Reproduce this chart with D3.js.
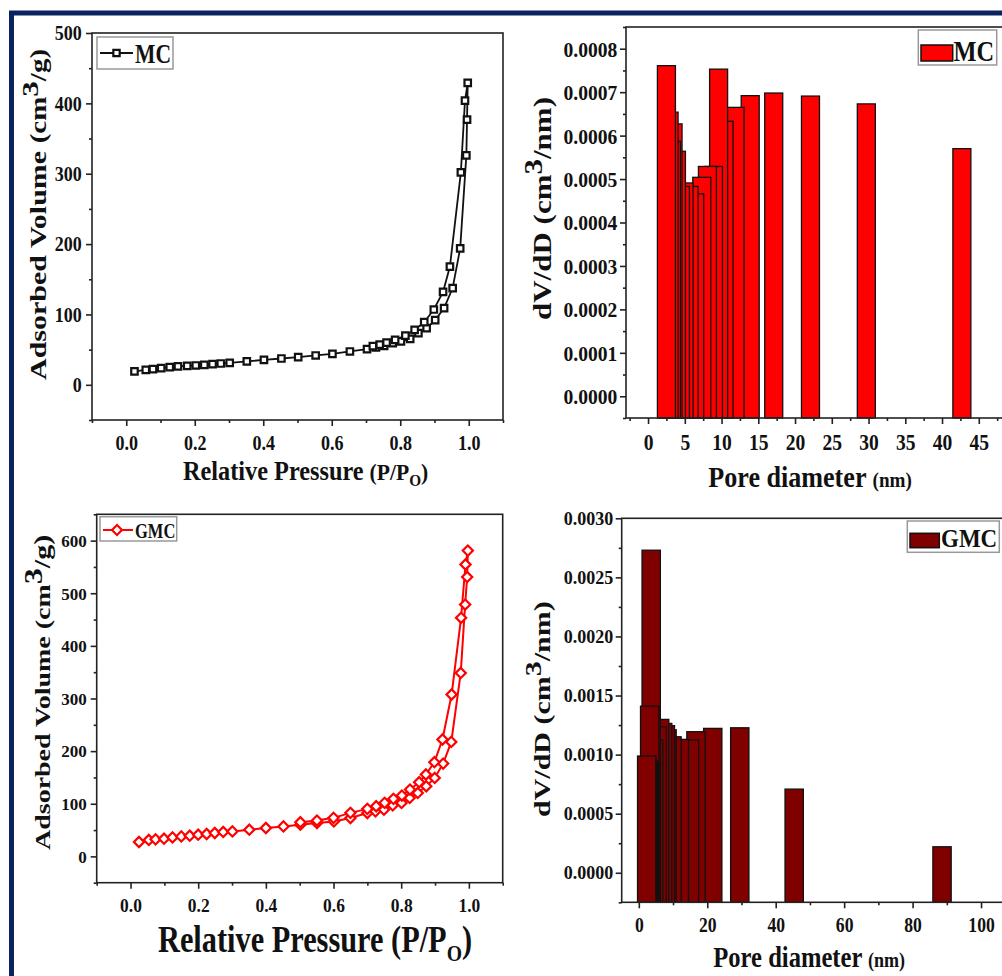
<!DOCTYPE html>
<html><head><meta charset="utf-8">
<script src="https://cdn.jsdelivr.net/npm/d3@7"></script>
<style>body{margin:0;background:#fff}svg{display:block}text{white-space:pre}</style>
</head><body><svg id="c" width="1002" height="976"></svg>
<script>
// ---------- DATA ----------
// MC isotherm (adsorption then desorption branch)
const mcAdsP = [0.024,0.057,0.078,0.102,0.127,0.151,0.178,0.203,0.228,0.252,0.276,0.302,0.352,0.402,0.453,0.502,0.553,0.602,0.653,0.703,0.729,0.753,0.778,0.802,0.829,0.853,0.877,0.902,0.928,0.953,0.975,0.993,0.995,0.997];
const mcAdsV = [19,21.3,22.3,23.7,25.1,26.1,27,27.5,28.4,29.4,30.3,31.3,33.2,35.5,37.4,39.3,41.7,44.1,47.4,50.7,53.1,55.4,59.2,61.6,65.4,73.4,80.5,92,109,137.5,194,326,377,429];
const mcDesP = [0.989,0.977,0.945,0.925,0.898,0.870,0.842,0.815,0.785,0.760,0.740,0.720];
const mcDesV = [404,302,168,132,107,89,78,70,64,60,57,55];
// GMC isotherm
const gmcAdsP = [0.025,0.054,0.074,0.099,0.124,0.150,0.175,0.200,0.225,0.249,0.274,0.301,0.351,0.400,0.452,0.502,0.551,0.601,0.650,0.700,0.724,0.749,0.775,0.801,0.825,0.849,0.874,0.899,0.924,0.948,0.976,0.989,0.995,0.997];
const gmcAdsV = [27.3,31.2,32.4,33.6,36.1,38,39.3,41.2,42.5,44.4,46.4,47.5,50.7,53.9,57,60.2,63.4,66.5,72.9,82.4,85.6,88.7,97,101.5,111,120.5,133.2,149,176.3,217.5,348.6,478.5,531,581];
const gmcDesP = [0.990,0.977,0.949,0.922,0.898,0.873,0.853,0.826,0.802,0.777,0.751,0.726,0.700,0.650,0.600,0.551,0.502];
const gmcDesV = [554.6,453.3,307.6,222.1,179,155.6,141,127,115.6,109.3,101.7,95.3,90.3,82.7,73.2,68.1,65];
// Pore size distributions
const mcPore = [2.5,2.86,3.18,3.40,3.86,4.4,4.9,5.58,6.35,7.31,8.08,8.9,9.6,10.34,11.84,13.9,17.1,22.1,29.7,42.7];
const mcDvdD = [0.000761,0.000654,0.000587,0.000627,0.000564,0.000483,0.000491,0.000483,0.000466,0.000504,0.000529,0.000529,0.000753,0.000633,0.000665,0.000692,0.000698,0.000691,0.000673,0.00057];
const gmcPore = [2.3,2.45,2.6,2.75,2.9,3.17,3.3,3.45,3.62,4.35,5.33,6.09,6.97,7.76,8.25,9.7,11.85,14.8,16.7,21.6,29.5,45.4,88.6];
const gmcDvdD = [0.000988,0.00096,0.00095,0.00094,0.00093,0.00141,0.00094,0.00093,0.00273,0.001123,0.001236,0.001298,0.001264,0.001245,0.00121,0.001151,0.001129,0.001123,0.001194,0.001222,0.001227,0.000708,0.00022];
// Tick values
const isoXTicks = [0,0.2,0.4,0.6,0.8,1.0];
const isoXMinor = [-0.1,0.1,0.3,0.5,0.7,0.9,1.1];
const mcIsoYTicks = [0,100,200,300,400,500];
const mcIsoYMinor = [-50,50,150,250,350,450];
const gmcIsoYTicks = [0,100,200,300,400,500,600];
const gmcIsoYMinor = [-50,50,150,250,350,450,550,650];
const mcPsdXTicks = [0,5,10,15,20,25,30,35,40,45];
const mcPsdXMinor = [-2.5,2.5,7.5,12.5,17.5,22.5,27.5,32.5,37.5,42.5,47.5];
const mcPsdYTicks = [0,0.0001,0.0002,0.0003,0.0004,0.0005,0.0006,0.0007,0.0008];
const mcPsdYMinor = [-0.00005,0.00005,0.00015,0.00025,0.00035,0.00045,0.00055,0.00065,0.00075,0.00085];
const gmcPsdXTicks = [0,20,40,60,80,100];
const gmcPsdXMinor = [10,30,50,70,90];
const gmcPsdYTicks = [0,0.0005,0.001,0.0015,0.002,0.0025,0.003];
const gmcPsdYMinor = [-0.00025,0.00025,0.00075,0.00125,0.00175,0.00225,0.00275];

// ---------- DRAW ----------
const FONT = '"Liberation Serif","Times New Roman",serif';
const svg = d3.select("#c");
svg.append("rect").attr("width",1002).attr("height",976).attr("fill","#fff");
svg.append("rect").attr("x",11.5).attr("y",13).attr("width",1300).attr("height",1300)
  .attr("fill","none").attr("stroke","#0b2260").attr("stroke-width",5);

function rich(parent, x, y, parts, o) {
  const t = parent.append("text")
    .attr("transform", `translate(${x},${y}) scale(${o.sx||1},1)` + (o.rot ? ` rotate(${o.rot})` : ""))
    .attr("font-family", FONT).attr("font-weight","bold").attr("fill","#111")
    .attr("text-anchor", o.anchor || "start");
  parts.forEach(p => t.append("tspan").attr("font-size", p.size).attr("dy", p.dy || 0).text(p.t));
  return t;
}

function panel(cfg) {
  const g = svg.append("g");
  const x = d3.scaleLinear().domain(cfg.xd).range([cfg.l, cfg.r]);
  const y = d3.scaleLinear().domain(cfg.yd).range([cfg.b, cfg.t]);
  cfg.draw(g, x, y);
  g.append("rect").attr("x",cfg.l).attr("y",cfg.t).attr("width",cfg.r-cfg.l).attr("height",cfg.b-cfg.t)
    .attr("fill","none").attr("stroke","#222").attr("stroke-width",1.6);
  const ya = g.append("g").attr("transform",`translate(${cfg.l},0)`)
    .call(d3.axisLeft(y).tickValues(cfg.yt).tickSize(6).tickFormat(cfg.yf));
  const yam = g.append("g").attr("transform",`translate(${cfg.l},0)`)
    .call(d3.axisLeft(y).tickValues(cfg.ym).tickSize(3).tickFormat(""));
  const xa = g.append("g").attr("transform",`translate(0,${cfg.b})`)
    .call(d3.axisBottom(x).tickValues(cfg.xt).tickSize(6).tickFormat(cfg.xf));
  const xam = g.append("g").attr("transform",`translate(0,${cfg.b})`)
    .call(d3.axisBottom(x).tickValues(cfg.xm).tickSize(3).tickFormat(""));
  [ya,yam,xa,xam].forEach(a => {
    a.select(".domain").remove();
    a.selectAll(".tick line").attr("stroke","#222").attr("stroke-width",1.6);
  });
  ya.selectAll(".tick text").attr("font-family",FONT).attr("font-weight","bold").attr("fill","#111")
    .attr("font-size",cfg.ys).attr("transform",`scale(${cfg.ysx},1)`).attr("x",-cfg.ygap/cfg.ysx).attr("dy","0.34em");
  xa.selectAll(".tick text").attr("font-family",FONT).attr("font-weight","bold").attr("fill","#111")
    .attr("font-size",cfg.xs).attr("transform",`scale(${cfg.xsx},1)`).attr("y",cfg.xgap).attr("dy",0);
  return g;
}

function isoDraw(adsP, adsV, desP, desV, color, marker, lw) {
  return (g, x, y) => {
    const P = adsP.concat(desP), V = adsV.concat(desV);
    const pts = P.map((p,i) => [x(p), y(V[i])]);
    g.append("path").attr("d", d3.line()(pts)).attr("fill","none").attr("stroke",color).attr("stroke-width",lw);
    const sym = d3.symbol().type(d3.symbolSquare).size(marker === "sq" ? 42 : 52);
    g.selectAll(".m").data(pts).join("path").attr("d",sym)
      .attr("transform", d => `translate(${d[0]},${d[1]})` + (marker === "di" ? " rotate(45)" : ""))
      .attr("fill","#fff").attr("stroke",color).attr("stroke-width",2.2);
  };
}

function barDraw(pore, vals, w, fill) {
  return (g, x, y) => {
    const b = y.range()[0];
    const idx = d3.range(pore.length).sort((a,c) => pore[c]-pore[a]);
    g.selectAll(".bar").data(idx).join("rect")
      .attr("x", i => x(pore[i]-w/2)).attr("width", i => x(pore[i]+w/2)-x(pore[i]-w/2))
      .attr("y", i => y(vals[i])).attr("height", i => b - y(vals[i]))
      .attr("fill", fill).attr("stroke","#111").attr("stroke-width",1.3);
  };
}

panel({l:92,r:503,t:33,b:420,xd:[-0.1,1.1],yd:[-50,500],
  xt:isoXTicks,xm:isoXMinor,yt:mcIsoYTicks,ym:mcIsoYMinor,xf:d3.format(".1f"),yf:d3.format("d"),
  ys:20,ysx:0.9,ygap:10.3,xs:20,xsx:0.9,xgap:30,
  draw: isoDraw(mcAdsP,mcAdsV,mcDesP,mcDesV,"#111","sq",1.8)});
panel({l:626,r:1004.5,t:27,b:418,xd:[-3,48.5],yd:[-0.00005,0.00085],
  xt:mcPsdXTicks,xm:mcPsdXMinor,yt:mcPsdYTicks,ym:mcPsdYMinor,xf:d3.format("d"),yf:d3.format(".4f"),
  ys:22,ysx:0.89,ygap:8.7,xs:23,xsx:0.85,xgap:32,
  draw: barDraw(mcPore,mcDvdD,2.45,"#ff0000")});
panel({l:96.7,r:502.7,t:514.3,b:882.7,xd:[-0.1,1.1],yd:[-50,650],
  xt:isoXTicks,xm:isoXMinor,yt:gmcIsoYTicks,ym:gmcIsoYMinor,xf:d3.format(".1f"),yf:d3.format("d"),
  ys:17,ysx:1,ygap:10,xs:19,xsx:0.92,xgap:29,
  draw: isoDraw(gmcAdsP,gmcAdsV,gmcDesP,gmcDesV,"#ff0000","di",2)});
panel({l:621.7,r:1005,t:518.3,b:902.3,xd:[-5,107],yd:[-0.00025,0.003],
  xt:gmcPsdXTicks,xm:gmcPsdXMinor,yt:gmcPsdYTicks,ym:gmcPsdYMinor,xf:d3.format("d"),yf:d3.format(".4f"),
  ys:18,ysx:1,ygap:8.4,xs:20,xsx:0.88,xgap:29.4,
  draw: barDraw(gmcPore,gmcDvdD,5.35,"#800000")});

// ---------- TITLES ----------
rich(svg, 46, 380, [{t:"Adsorbed Volume ",size:30},{t:"(cm",size:29},{t:"3",size:31,dy:-11},{t:"/g)",size:29,dy:11}], {sx:0.77,rot:-90});
rich(svg, 50, 850, [{t:"Adsorbed Volume ",size:28},{t:"(cm",size:28},{t:"3",size:32,dy:-11},{t:"/g)",size:30,dy:11}], {sx:0.77,rot:-90});
rich(svg, 551, 320, [{t:"dV/dD ",size:31},{t:"(cm",size:31},{t:"3",size:31,dy:-11},{t:"/nm)",size:31,dy:11}], {sx:0.8,rot:-90});
rich(svg, 550, 817, [{t:"dV/dD ",size:30},{t:"(cm",size:30},{t:"3",size:30,dy:-11},{t:"/nm)",size:30,dy:11}], {sx:0.8,rot:-90});

rich(svg, 183, 480, [{t:"Relative Pressure ",size:27},{t:"(P/P",size:24},{t:"O",size:17,dy:6},{t:")",size:24,dy:-6}], {sx:0.9});
rich(svg, 158, 951.7, [{t:"Relative Pressure ",size:37},{t:"(P/P",size:37},{t:"O",size:24,dy:9},{t:")",size:37,dy:-9}], {sx:0.82});
rich(svg, 708.3, 486.7, [{t:"Pore diameter ",size:30},{t:"(nm)",size:22}], {sx:0.87});
rich(svg, 713.3, 966.7, [{t:"Pore diameter ",size:30},{t:"(nm)",size:22}], {sx:0.82});

// ---------- LEGENDS ----------
function legBox(x,y,w,h){ svg.append("rect").attr("x",x).attr("y",y).attr("width",w).attr("height",h)
  .attr("fill","#fff").attr("stroke","#999").attr("stroke-width",1.5); }
legBox(97,37,76,32);
svg.append("line").attr("x1",100).attr("x2",133).attr("y1",53).attr("y2",53).attr("stroke","#111").attr("stroke-width",2);
svg.append("path").attr("d",d3.symbol().type(d3.symbolSquare).size(40)).attr("transform","translate(116.5,53)")
  .attr("fill","#fff").attr("stroke","#111").attr("stroke-width",2.2);
rich(svg, 135, 63.3, [{t:"MC",size:27}], {sx:0.8});
legBox(100,516.7,76.7,24.3);
svg.append("line").attr("x1",103).attr("x2",133).attr("y1",530).attr("y2",530).attr("stroke","#ff0000").attr("stroke-width",2);
svg.append("path").attr("d",d3.symbol().type(d3.symbolSquare).size(50)).attr("transform","translate(117,530) rotate(45)")
  .attr("fill","#fff").attr("stroke","#ff0000").attr("stroke-width",2.2);
rich(svg, 135, 538.3, [{t:"GMC",size:22}], {sx:0.75});
legBox(918.3,30,78.4,35);
svg.append("rect").attr("x",921).attr("y",45).attr("width",31.7).attr("height",16).attr("fill","#ff0000").attr("stroke","#111").attr("stroke-width",1.5);
rich(svg, 953.5, 61, [{t:"MC",size:29}], {sx:0.84});
legBox(907.3,521,92,31.3);
svg.append("rect").attr("x",910).attr("y",533.3).attr("width",29.3).attr("height",14.4).attr("fill","#800000").attr("stroke","#111").attr("stroke-width",1.5);
rich(svg, 941, 546.7, [{t:"GMC",size:25}], {sx:0.92});
</script></body></html>
